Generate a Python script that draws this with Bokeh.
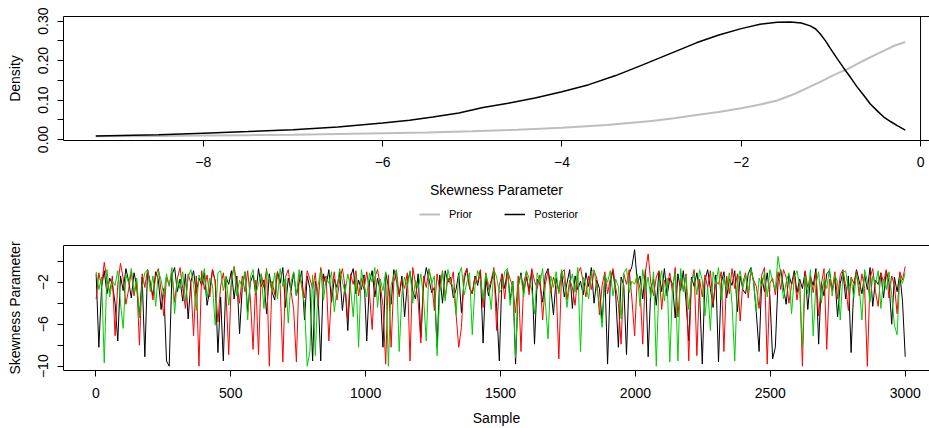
from bokeh.plotting import figure
from bokeh.models import (Range1d, LinearAxis, FixedTicker, CustomJSTickFormatter,
                          Span, Legend, LegendItem)
from bokeh.layouts import column
from bokeh.embed import file_html
from bokeh.resources import INLINE
import numpy as np

# ---------------- data: density panel ----------------
post_x = [-9.2, -8.5, -8.0, -7.5, -7.0, -6.5, -6.0, -5.7, -5.44, -5.15, -4.88, -4.6, -4.3,
          -4.0, -3.7, -3.4, -3.1, -2.8, -2.5, -2.25, -2.0, -1.79, -1.6, -1.45, -1.33, -1.23,
          -1.17, -1.12, -1.06, -1.01, -0.93, -0.86, -0.78, -0.71, -0.63, -0.56, -0.48, -0.41,
          -0.33, -0.26, -0.17]
posterior = [0.009, 0.012, 0.016, 0.020, 0.025, 0.032, 0.042, 0.049, 0.057, 0.067, 0.081,
             0.092, 0.105, 0.121, 0.139, 0.162, 0.189, 0.217, 0.245, 0.265, 0.281, 0.292,
             0.297, 0.298, 0.295, 0.288, 0.280, 0.268, 0.250, 0.232, 0.205, 0.182, 0.157,
             0.134, 0.111, 0.090, 0.072, 0.057, 0.045, 0.035, 0.024]
prior_x = [-9.2, -8.5, -8.0, -7.5, -7.0, -6.5, -6.0, -5.5, -5.0, -4.5, -4.0, -3.5, -3.0,
           -2.75, -2.5, -2.25, -2.0, -1.8, -1.6, -1.4, -1.25, -1.1, -1.0, -0.9, -0.8,
           -0.7, -0.6, -0.5, -0.4, -0.3, -0.17]
prior = [0.008, 0.009, 0.010, 0.011, 0.012, 0.014, 0.016, 0.018, 0.021, 0.025, 0.030,
         0.037, 0.047, 0.054, 0.062, 0.070, 0.079, 0.088, 0.099, 0.116, 0.132, 0.148,
         0.160, 0.170, 0.180, 0.192, 0.204, 0.215, 0.226, 0.237, 0.247]

# ---------------- data: trace panel (every ~10th sample) ----------------
chain_black = [
    -1.2, -8.2, -2.5, -0.9, -3.1, -1.6, -2.2, -4.0, -7.6, -1.4, -2.8, -0.7, -1.9, -3.5, -1.1, -2.4, -5.2, -1.5, -9.1, -0.8,
    -2.1, -3.3, -1.0, -1.8, -4.6, -2.6, -9.5, -10.0, -1.3, -0.6, -2.9, -1.7, -3.8, -1.2, -5.5, -2.0, -0.9, -3.0, -1.6, -2.3,
    -1.1, -4.2, -2.7, -0.8, -1.9, -8.7, -3.4, -9.5, -1.5, -2.2, -0.9, -3.6, -1.4, -6.9, -2.5, -1.0, -4.8, -2.0, -1.3, -3.2,
    -0.7, -2.4, -1.8, -5.0, -1.2, -2.9, -3.7, -1.0, -2.1, -0.6, -4.4, -1.6, -2.8, -1.1, -3.3, -2.0, -0.9, -5.6, -1.4, -2.6,
    -9.5, -1.9, -3.0, -9.5, -1.2, -2.3, -0.8, -3.9, -1.7, -2.5, -1.0, -4.7, -2.2, -6.6, -1.5, -0.7, -3.1, -1.8, -2.7, -1.3,
    -7.6, -2.0, -0.9, -3.4, -1.6, -2.9, -8.2, -1.1, -2.4, -4.1, -0.8, -1.9, -3.2, -1.4, -5.3, -2.1, -1.0, -2.8, -3.6, -1.2,
    -7.3, -2.2, -0.6, -1.7, -3.0, -2.5, -8.2, -1.3, -4.0, -0.9, -2.0, -1.5, -3.5, -2.7, -1.1, -4.9, -1.8, -0.7, -2.6, -3.1,
    -1.4, -2.3, -0.9, -7.8, -1.6, -3.3, -2.0, -1.0, -4.3, -9.5, -1.2, -2.6, -0.8, -3.7, -1.9, -9.8, -2.4, -1.1, -3.0, -1.5,
    -2.8, -0.9, -7.9, -1.7, -2.2, -3.9, -1.3, -0.7, -2.5, -5.1, -1.6, -2.9, -1.0, -3.4, -2.1, -0.8, -4.5, -1.4, -2.7, -1.9,
    -3.2, -1.1, -2.4, -0.6, -4.0, -1.8, -2.6, -5.8, -1.3, -9.8, -2.0, -0.9, -3.1, -8.2, -1.5, -2.3, -8.9, -1.2, -0.5, 1.1,
    -2.1, -1.4, -3.6, -0.8, -9.1, -2.5, -1.7, -4.2, -1.0, -2.9, -0.7, -3.3, -1.6, -2.2, -5.4, -1.2, -2.8, -0.9, -3.8, -7.6,
    -1.5, -2.4, -1.1, -3.0, -9.8, -1.8, -0.8, -2.6, -4.4, -1.3, -9.6, -2.1, -1.0, -3.5, -1.7, -2.3, -0.9, -4.8, -1.4, -2.7,
    -3.1, -1.2, -0.6, -2.0, -5.0, -8.6, -1.6, -2.9, -1.1, -3.4, -9.3, -8.2, -1.9, -0.8, -2.5, -4.1, -1.3, -2.2, -0.9, -3.0,
    -1.7, -2.6, -1.0, -4.6, -1.5, -2.3, -0.7, -7.9, -2.0, -3.3, -1.2, -0.9, -2.8, -1.6, -5.3, -2.1, -1.0, -3.6, -1.4, -8.7,
    -2.4, -0.8, -1.9, -3.1, -1.3, -2.7, -0.6, -4.3, -1.8, -2.2, -1.1, -3.5, -0.9, -2.0, -6.0, -1.5, -2.9, -1.2, -3.8, -9.1,
]
chain_red = [
    -3.6, -1.1, -2.4, -0.1, -1.8, -3.0, -1.4, -7.1, -2.2, -0.2, -1.6, -4.1, -2.7, -1.0, -3.3, -1.9, -8.0, -1.2, -2.5, -0.8,
    -2.0, -3.7, -1.3, -0.7, -2.8, -5.2, -1.5, -2.3, -1.0, -3.9, -1.7, -0.6, -2.6, -4.5, -1.2, -2.1, -7.1, -1.4, -10.0, -0.9,
    -2.7, -1.3, -3.4, -0.8, -1.9, -5.8, -2.4, -1.1, -3.1, -8.9, -1.6, -0.5, -2.2, -4.0, -1.4, -2.9, -0.9, -3.6, -8.4, -1.8,
    -8.9, -1.2, -2.5, -0.7, -10.0, -1.9, -3.2, -1.0, -2.3, -9.6, -1.5, -0.8, -2.8, -4.6, -9.6, -1.3, -2.1, -3.5, -0.9, -1.7,
    -2.6, -1.1, -4.3, -0.6, -2.0, -1.4, -7.6, -2.9, -1.0, -3.7, -1.8, -0.7, -2.4, -5.5, -1.2, -2.2, -0.9, -3.3, -1.6, -2.7,
    -1.0, -3.0, -6.5, -1.5, -0.8, -2.3, -4.2, -9.8, -1.3, -8.2, -2.0, -0.9, -3.4, -1.7, -2.6, -1.1, -9.5, -0.6, -2.1, -3.8,
    -7.8, -1.4, -2.5, -0.8, -1.9, -4.7, -1.2, -2.8, -0.9, -3.5, -1.6, -2.2, -1.0, -5.0, -8.2, -6.3, -1.3, -0.7, -2.4, -3.1,
    -1.5, -2.0, -0.8, -4.4, -1.1, -2.7, -1.8, -0.6, -6.6, -2.3, -1.2, -3.6, -0.9, -1.7, -2.5, -4.9, -1.4, -8.6, -2.1, -1.0,
    -3.2, -0.7, -1.9, -2.6, -1.3, -5.6, -2.2, -0.9, -3.0, -1.5, -2.4, -9.3, -1.1, -0.8, -3.7, -1.8, -2.5, -4.2, -1.2, -0.6,
    -2.0, -3.4, -1.4, -2.7, -0.9, -1.6, -5.1, -2.3, -1.0, -3.1, -1.7, -0.7, -2.5, -4.0, -7.9, -1.2, -2.2, -0.8, -3.6, -7.1,
    -1.4, -2.6, -7.9, -1.0, 0.7, -2.1, -3.3, -1.5, -0.9, -4.6, -1.8, -2.4, -1.1, -3.0, -0.6, -5.3, -1.6, -2.8, -1.2, -9.5,
    -2.0, -0.8, -9.0, -1.7, -3.4, -1.3, -2.5, -0.9, -4.1, -1.9, -2.2, -1.0, -8.6, -1.4, -3.1, -0.7, -2.6, -1.2, -5.7, -2.0,
    -1.1, -3.5, -0.9, -1.8, -2.4, -4.5, -1.3, -0.6, -9.8, -2.1, -1.6, -3.2, -1.0, -2.7, -0.8, -1.5, -4.0, -2.3, -1.2, -3.7,
    -1.9, -10.0, -0.9, -2.5, -1.4, -3.0, -1.1, -5.2, -2.2, -0.7, -8.4, -1.7, -2.8, -1.0, -3.6, -1.3, -0.8, -2.4, -4.7, -1.5,
    -2.1, -0.9, -3.3, -1.2, -2.6, -10.0, -1.6, -0.7, -2.9, -4.3, -1.1, -2.0, -0.8, -3.5, -1.4, -2.3, -5.0, -1.0, -1.8, -0.5,
]
chain_green = [
    -1.0, -2.7, -1.5, -9.7, -0.8, -3.4, -1.9, -2.3, -0.9, -4.0, -6.4, -1.3, -2.1, -0.7, -3.0, -1.6, -5.4, -2.5, -1.1, -0.8,
    -2.9, -1.4, -4.3, -0.9, -1.8, -3.2, -1.2, -2.4, -0.6, -5.0, -1.7, -2.6, -1.0, -3.8, -1.5, -0.8, -2.2, -4.7, -1.3, -2.0,
    -0.7, -3.5, -1.6, -2.3, -6.1, -1.1, -0.9, -2.8, -1.4, -4.2, -2.0, -0.6, -3.3, -1.8, -2.5, -1.0, -5.6, -1.5, -0.8, -3.1,
    -2.2, -1.2, -4.5, -0.9, -1.7, -2.9, -1.1, -3.6, -0.7, -2.4, -1.5, -5.9, -2.0, -1.0, -3.3, -0.8, -2.6, -4.1, -10.0, -8.6,
    -1.3, -9.0, -2.3, -0.9, -3.7, -1.6, -2.1, -1.0, -4.8, -2.7, -0.7, -1.9, -3.0, -1.2, -2.5, -5.3, -1.4, -8.2, -0.8, -2.2,
    -3.4, -1.1, -2.0, -0.6, -4.4, -1.7, -2.8, -1.0, -10.0, -2.3, -1.3, -0.8, -8.6, -3.1, -1.5, -2.4, -0.9, -4.0, -1.8, -2.6,
    -1.2, -3.5, -7.6, -0.7, -2.1, -1.4, -9.0, -2.9, -1.0, -3.8, -0.8, -1.9, -2.5, -5.1, -1.3, -0.6, -3.2, -2.0, -1.1, -7.0,
    -2.4, -0.9, -1.7, -3.6, -1.2, -2.2, -4.6, -0.8, -1.5, -3.0, -2.6, -1.0, -0.7, -4.2, -1.9, -9.2, -2.3, -1.3, -3.4, -0.9,
    -1.6, -2.8, -5.0, -1.1, -2.1, -0.7, -3.9, -7.4, -1.4, -2.5, -1.0, -3.1, -0.8, -1.8, -4.4, -2.2, -1.2, -2.9, -0.6, -8.6,
    -1.5, -2.3, -3.6, -1.0, -0.8, -2.6, -4.0, -6.3, -1.3, -2.0, -0.9, -3.3, -1.7, -2.4, -5.5, -1.1, -0.7, -3.0, -1.9, -2.2,
    -1.2, -4.3, -0.8, -2.7, -1.5, -3.5, -1.0, -10.0, -2.1, -0.9, -3.8, -1.6, -9.6, -2.4, -1.1, -9.5, -0.7, -2.9, -1.4, -4.6,
    -2.0, -1.2, -3.2, -0.8, -1.8, -5.2, -2.5, -6.6, -1.0, -2.2, -0.6, -3.7, -1.5, -2.8, -1.1, -4.1, -9.5, -1.9, -0.9, -2.6,
    -1.3, -3.0, -0.7, -2.1, -4.8, -1.6, -2.4, -1.0, -3.4, -0.8, -1.9, -2.7, 0.45, -1.2, -3.6, -2.0, -1.1, -5.0, -1.5, -0.9,
    -2.3, -8.2, -1.4, -3.1, -0.8, -7.1, -2.2, -1.0, -4.0, -1.7, -2.6, -0.7, -3.3, -1.3, -2.0, -5.6, -1.1, -0.9, -2.8, -1.6,
    -3.5, -1.2, -2.4, -5.6, -0.8, -1.9, -3.9, -1.4, -2.2, -0.9, -4.5, -1.7, -2.7, -1.0, -3.2, -6.1, -7.0, -1.5, -2.1, -1.1,
]
n_samples = 3000
samples = np.linspace(1, n_samples, len(chain_black))

top_xticks = [-8, -6, -4, -2, 0]
top_yticks = [0.0, 0.05, 0.10, 0.15, 0.20, 0.25, 0.30]
bot_xticks = [0, 500, 1000, 1500, 2000, 2500, 3000]
bot_yticks = [-10, -8, -6, -4, -2, 0]
legend_labels = ["Prior", "Posterior"]

FONT = "Liberation Sans"
PRIOR_COLOR = "#BEBEBE"
POST_COLOR = "black"


def style_axis(ax):
    ax.major_tick_out = 6
    ax.major_tick_in = 0
    ax.minor_tick_out = 0
    ax.minor_tick_in = 0
    ax.axis_line_color = "black"
    ax.axis_line_width = 1
    ax.major_tick_line_color = "black"
    ax.major_label_text_font = FONT
    ax.major_label_text_font_size = "14px"
    ax.major_label_text_color = "black"
    ax.axis_label_text_font = FONT
    ax.axis_label_text_font_size = "14px"
    ax.axis_label_text_font_style = "normal"
    ax.axis_label_text_color = "black"


def top_line_axis(p):
    ax = LinearAxis(ticker=FixedTicker(ticks=[]), major_tick_out=0, major_tick_in=0,
                    minor_tick_out=0, minor_tick_in=0, major_label_text_font_size="0px",
                    axis_line_color="black")
    p.add_layout(ax, "above")


minus_fmt = "return String(Math.round(tick)).replace('-', '\u2212');"

# ---------------- top figure ----------------
p1 = figure(width=929, height=200, min_border_left=63, min_border_right=0,
            min_border_top=16, min_border_bottom=58,
            x_range=Range1d(-9.56, 0.1), y_range=Range1d(-0.0025, 0.3117),
            x_axis_type=None, y_axis_type=None,
            output_backend="svg", toolbar_location=None)
p1.outline_line_color = None
p1.background_fill_color = "white"
p1.border_fill_color = "white"

p1.line(prior_x, prior, line_color=PRIOR_COLOR, line_width=2)
p1.line(post_x, posterior, line_color=POST_COLOR, line_width=1.5)
p1.add_layout(Span(location=0, dimension="height", line_color="black", line_width=1))

xa1 = LinearAxis(ticker=FixedTicker(ticks=top_xticks),
                 formatter=CustomJSTickFormatter(code=minus_fmt),
                 axis_label="Skewness Parameter")
style_axis(xa1)
xa1.major_label_standoff = 10
xa1.axis_label_standoff = 12
p1.add_layout(xa1, "below")

ya1 = LinearAxis(ticker=FixedTicker(ticks=top_yticks),
                 formatter=CustomJSTickFormatter(code="return (index % 2 == 0) ? tick.toFixed(2) : '';"),
                 axis_label="Density")
style_axis(ya1)
ya1.major_label_orientation = "parallel"
ya1.major_label_standoff = 9
ya1.axis_label_standoff = 13
p1.add_layout(ya1, "left")
top_line_axis(p1)

# ---------------- legend strip ----------------
pl = figure(width=929, height=22, min_border=0, x_range=Range1d(0, 1), y_range=Range1d(0, 1),
            x_axis_type=None, y_axis_type=None, output_backend="svg", toolbar_location=None)
pl.outline_line_color = None
pl.background_fill_color = "white"
pl.border_fill_color = "white"
nan_pt = np.array([np.nan])
lr_prior = pl.line(nan_pt, nan_pt, line_color=PRIOR_COLOR, line_width=2)
lr_post = pl.line(nan_pt, nan_pt, line_color=POST_COLOR, line_width=1.5)
legend = Legend(items=[LegendItem(label=legend_labels[0], renderers=[lr_prior]),
                       LegendItem(label=legend_labels[1], renderers=[lr_post])],
                orientation="horizontal", location=(356, 2))
legend.border_line_color = None
legend.background_fill_alpha = 0
legend.label_text_font = FONT
legend.label_text_font_size = "11px"
legend.label_text_color = "black"
legend.glyph_width = 21
legend.glyph_height = 12
legend.label_height = 12
legend.label_standoff = 9
legend.spacing = 32
legend.padding = 3
legend.margin = 0
pl.add_layout(legend, "center")

# ---------------- bottom figure ----------------
p2 = figure(width=929, height=206, min_border_left=63, min_border_right=0,
            min_border_top=23, min_border_bottom=58,
            x_range=Range1d(-120, 3090), y_range=Range1d(-10.41, 1.50),
            x_axis_type=None, y_axis_type=None,
            output_backend="svg", toolbar_location=None)
p2.outline_line_color = None
p2.background_fill_color = "white"
p2.border_fill_color = "white"

p2.line(samples, chain_black, line_color="black", line_width=1)
p2.line(samples, chain_red, line_color="#FF0000", line_width=1)
p2.line(samples, chain_green, line_color="#00CD00", line_width=1)

xa2 = LinearAxis(ticker=FixedTicker(ticks=bot_xticks),
                 formatter=CustomJSTickFormatter(code="return tick.toFixed(0);"),
                 axis_label="Sample")
style_axis(xa2)
xa2.major_label_standoff = 11
xa2.axis_label_standoff = 9
p2.add_layout(xa2, "below")

ya2 = LinearAxis(ticker=FixedTicker(ticks=bot_yticks),
                 formatter=CustomJSTickFormatter(
                     code="var t = Math.round(tick); return (t % 4 == -2) ? String(t).replace('-', '\u2212') : '';"),
                 axis_label="Skewness Parameter")
style_axis(ya2)
ya2.major_label_orientation = "parallel"
ya2.major_label_standoff = 9
ya2.axis_label_standoff = 13
p2.add_layout(ya2, "left")
top_line_axis(p2)

layout = column(p1, pl, p2, spacing=0)
open("out.html", "w", encoding="utf-8").write(file_html(layout, INLINE))
